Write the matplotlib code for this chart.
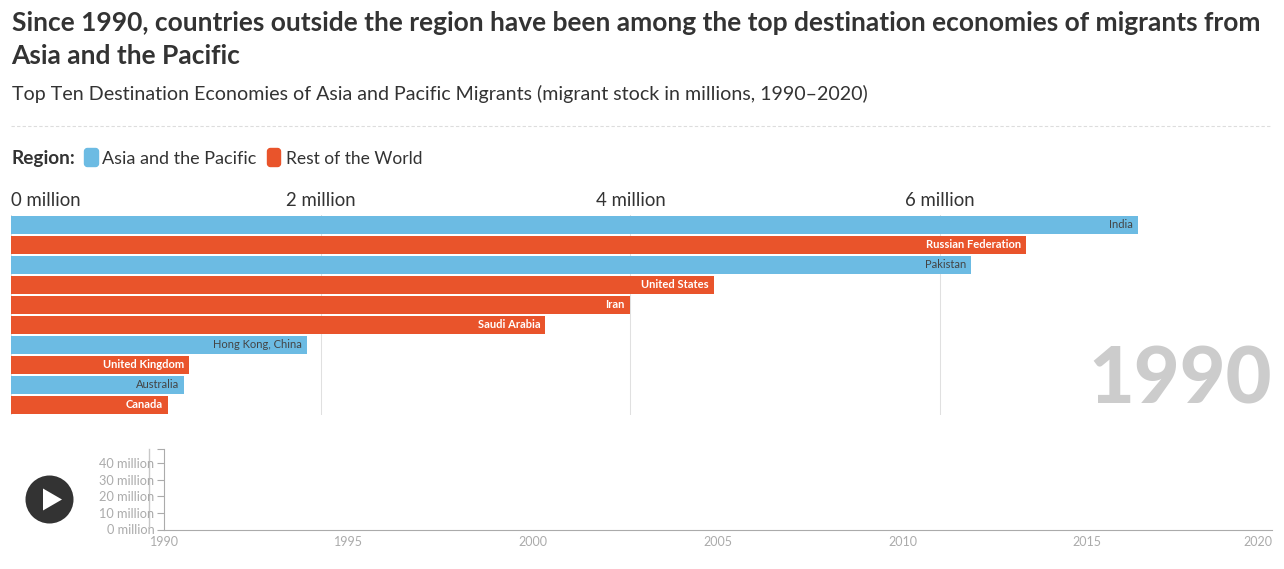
import matplotlib
matplotlib.use('Agg')
import matplotlib.pyplot as plt
from matplotlib.patches import Circle, FancyBboxPatch, Polygon

plt.rcParams['font.family'] = ['Lato', 'DejaVu Sans']

W, H = 1284, 569
BLUE = '#6CBBE3'
ORANGE = '#E9542B'
DARK = '#333333'
GREY = '#ABABAB'

title_lines = ['Since 1990, countries outside the region have been among the top destination economies of migrants from',
               'Asia and the Pacific']
subtitle = 'Top Ten Destination Economies of Asia and Pacific Migrants (migrant stock in millions, 1990\u20132020)'
countries = ['India', 'Russian Federation', 'Pakistan', 'United States', 'Iran', 'Saudi Arabia',
             'Hong Kong, China', 'United Kingdom', 'Australia', 'Canada']
migrants = [7.28, 6.555, 6.2, 4.54, 3.995, 3.45, 1.91, 1.15, 1.117, 1.014]
regions = ['asia', 'rest', 'asia', 'rest', 'rest', 'rest', 'asia', 'rest', 'asia', 'rest']
bar_ticks = [0, 2, 4, 6]
year = '1990'
total_ticks = [0, 10, 20, 30, 40]
year_ticks = [1990, 1995, 2000, 2005, 2010, 2015, 2020]

fig = plt.figure(figsize=(W / 100, H / 100), dpi=100)


def axes_px(left, top, right, bottom):
    return fig.add_axes([left / W, 1 - bottom / H, (right - left) / W, (bottom - top) / H])


# page layer in pixel coordinates, for the header, legend and play button
page = fig.add_axes([0, 0, 1, 1])
page.set_xlim(0, W)
page.set_ylim(H, 0)
page.axis('off')

page.text(11.5, 22.5, title_lines[0], fontsize=19.0, fontweight='bold', color=DARK, va='center')
page.text(11.5, 55.5, title_lines[1], fontsize=19.0, fontweight='bold', color=DARK, va='center')
page.text(11.5, 94, subtitle, fontsize=14.1, color=DARK, va='center')
page.plot([11, 1272], [126, 126], color='#DDDDDD', lw=0.8, ls=(0, (3, 2)))

page.text(11.5, 158.5, 'Region:', fontsize=13.7, fontweight='bold', color=DARK, va='center')
page.add_patch(FancyBboxPatch((84.5, 148.5), 14, 18, boxstyle='round,pad=0,rounding_size=3', fc=BLUE, ec=BLUE, lw=1))
page.text(102.5, 158.5, 'Asia and the Pacific', fontsize=13, color=DARK, va='center')
page.add_patch(FancyBboxPatch((267.5, 148.5), 13, 18, boxstyle='round,pad=0,rounding_size=3', fc=ORANGE, ec=ORANGE, lw=1))
page.text(285.5, 158.5, 'Rest of the World', fontsize=12.55, color=DARK, va='center')

page.add_patch(Circle((49.5, 499.5), 24, fc=DARK, ec='none'))
page.add_patch(Polygon([(43, 488.5), (43, 510.5), (62, 499.5)], fc='white', ec='none'))
page.plot([149, 149], [449, 526], color='#C8C8C8', lw=1)

# main bars, one bar slot is 20 px
ax = axes_px(11, 215, 1272, 415)
ax.patch.set_alpha(0)
ypos = range(len(countries))
colors = [BLUE if r == 'asia' else ORANGE for r in regions]
ax.barh(ypos, migrants, height=0.9, color=colors, zorder=2)
ax.set_xlim(0, (1272 - 11) / 154.85)
ax.set_ylim(9.5, -0.5)
ax.set_yticks([])
for spine in ax.spines.values():
    spine.set_visible(False)
ax.set_xticks(bar_ticks)
ax.set_xticklabels([f'{t} million' for t in bar_ticks], fontsize=13.4, color=DARK)
ax.xaxis.tick_top()
ax.tick_params(axis='x', length=0, pad=4.5)
ax.get_xticklabels()[0].set_horizontalalignment('left')
ax.grid(axis='x', color='#E0E0E0', lw=0.75, zorder=0)
ax.set_axisbelow(True)

for i, name in enumerate(countries):
    asia = regions[i] == 'asia'
    ax.annotate(name, (migrants[i], i), xytext=(-3.6, 0), textcoords='offset points',
                ha='right', va='center', fontsize=8, zorder=3,
                color='#444444' if asia else 'white', fontweight='normal' if asia else 'bold')

ax.text(1, -0.005, year, transform=ax.transAxes, ha='right', va='bottom', fontsize=57,
        fontweight=900, color='#CCCCCC', zorder=3)

# timeline with the total stock
tl = axes_px(164, 449, 1272, 529.5)
tl.patch.set_alpha(0)
tl.set_xlim(1990, 2020)
tl.set_ylim(0, 48.5)
tl.spines['top'].set_visible(False)
tl.spines['right'].set_visible(False)
tl.spines['left'].set_color(GREY)
tl.spines['bottom'].set_color(GREY)
tl.set_yticks(total_ticks + [48.5])
tl.set_yticklabels([f'{t} million' for t in total_ticks] + [''], fontsize=9.2, color=GREY)
tl.set_xticks(year_ticks)
tl.set_xticklabels([str(y) for y in year_ticks], fontsize=9, color=GREY)
tl.get_xticklabels()[-1].set_horizontalalignment('right')
tl.tick_params(axis='y', length=5, color=GREY, pad=2)
tl.tick_params(axis='x', length=0, pad=4.5)

fig.savefig('out.png', dpi=100)
